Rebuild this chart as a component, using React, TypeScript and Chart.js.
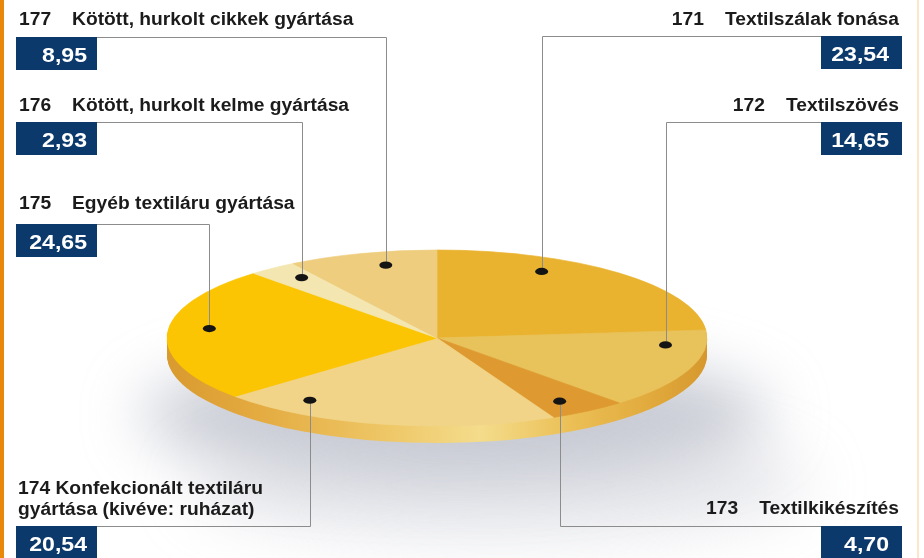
import { useEffect, useRef } from 'react';
import { Chart, registerables } from 'chart.js';

Chart.register(...registerables);

// ---- data ----
const codes = ['171', '172', '173', '174', '175', '176', '177'];
const names = [
  'Textilszálak fonása',
  'Textilszövés',
  'Textilkikészítés',
  'Konfekcionált textiláru\ngyártása (kivéve: ruházat)',
  'Egyéb textiláru gyártása',
  'Kötött, hurkolt kelme gyártása',
  'Kötött, hurkolt cikkek gyártása',
];
const values = [23.54, 14.65, 4.7, 20.54, 24.65, 2.93, 8.95];
const sliceColors = ['#e9b330', '#e8c25a', '#de9a30', '#f1d488', '#fcc503', '#f3e6b0', '#efcd7e'];

// ---- label layout (style) ----
type Lay = { side: 'L' | 'R'; textY: number; boxY: number; boxH: number; frac: number; inline?: boolean };
const layout: Lay[] = [
  { side: 'R', textY: 25, boxY: 36, boxH: 33, frac: 0.32 },
  { side: 'R', textY: 111, boxY: 122, boxH: 33, frac: 0.2 },
  { side: 'R', textY: 514, boxY: 526, boxH: 32, frac: 0.6 },
  { side: 'L', textY: 494, boxY: 526, boxH: 32, frac: 0.8, inline: true },
  { side: 'L', textY: 209, boxY: 224, boxH: 33, frac: 0.55 },
  { side: 'L', textY: 111, boxY: 122, boxH: 33, frac: 0.63 },
  { side: 'L', textY: 25, boxY: 37, boxH: 33, frac: 0.6 },
];

const TARGET_CY = 338;
const TILT = 88 / 270;
const THICK = 17;
const NAVY = '#0c396b';
const TEXT = '#1b1b1b';
const FONT = '"Liberation Sans", Arial, sans-serif';
const SX = 1.1;
const LINE_H = 21;

function sectorPath(ctx: CanvasRenderingContext2D, a: any) {
  ctx.beginPath();
  ctx.moveTo(a.x, a.y);
  ctx.arc(a.x, a.y, a.outerRadius, a.startAngle, a.endAngle);
  ctx.closePath();
}

function text(ctx: CanvasRenderingContext2D, t: string, x: number, y: number, align: CanvasTextAlign) {
  ctx.save();
  ctx.translate(x, y);
  ctx.scale(SX, 1);
  ctx.textAlign = align;
  ctx.fillText(t, 0, 0);
  ctx.restore();
}

const pie3d = {
  id: 'pie3d',
  beforeDraw(chart: any) {
    const ctx: CanvasRenderingContext2D = chart.ctx;
    const W = chart.width, H = chart.height;
    ctx.save();
    ctx.fillStyle = '#ffffff';
    ctx.fillRect(0, 0, W, H);
    // soft shadow below the disc
    ctx.filter = 'blur(30px)';
    ctx.fillStyle = 'rgba(165,170,185,0.6)';
    ctx.beginPath();
    ctx.ellipse(455, 415, 315, 62, 0, 0, Math.PI * 2);
    ctx.fill();
    ctx.fillStyle = 'rgba(185,188,200,0.35)';
    ctx.beginPath();
    ctx.ellipse(500, 485, 310, 55, 0, 0, Math.PI * 2);
    ctx.fill();
    ctx.filter = 'none';
    // frame accents
    ctx.fillStyle = '#e8890c';
    ctx.fillRect(0, 0, 4, H);
    ctx.fillStyle = '#fde6cc';
    ctx.fillRect(917, 0, 2, H);
    ctx.restore();
  },
  beforeDatasetsDraw(chart: any) {
    const ctx: CanvasRenderingContext2D = chart.ctx;
    const arcs = chart.getDatasetMeta(0).data;
    if (!arcs.length) return;
    const a0 = arcs[0];
    const cx = a0.x, cyC = a0.y, r = a0.outerRadius;
    const g = ctx.createLinearGradient(cx - r, 0, cx + r, 0);
    g.addColorStop(0, '#d99a2e');
    g.addColorStop(0.15, '#e3a93e');
    g.addColorStop(0.4, '#eec665');
    g.addColorStop(0.58, '#f4dc8c');
    g.addColorStop(0.75, '#ebbf55');
    g.addColorStop(0.9, '#e1a93c');
    g.addColorStop(1, '#d6982e');
    for (let d = THICK; d >= 1; d--) {
      ctx.save();
      ctx.translate(0, TARGET_CY + d);
      ctx.scale(1, TILT);
      ctx.translate(0, -cyC);
      ctx.fillStyle = g;
      for (const a of arcs) {
        sectorPath(ctx, a);
        ctx.fill();
      }
      ctx.restore();
    }
    ctx.save();
    ctx.translate(0, TARGET_CY);
    ctx.scale(1, TILT);
    ctx.translate(0, -cyC);
  },
  afterDatasetsDraw(chart: any) {
    chart.ctx.restore();
  },
  afterDraw(chart: any) {
    const ctx: CanvasRenderingContext2D = chart.ctx;
    const arcs = chart.getDatasetMeta(0).data;
    ctx.save();
    ctx.textBaseline = 'alphabetic';
    arcs.forEach((a: any, i: number) => {
      const L = layout[i];
      const ang = a.startAngle + L.frac * (a.endAngle - a.startAngle);
      const rr = a.outerRadius * 0.85;
      const dx = a.x + rr * Math.cos(ang);
      const dy = TARGET_CY + rr * Math.sin(ang) * TILT;
      const boxX = L.side === 'L' ? 16 : 821;
      const boxW = 81;
      // leader line
      ctx.strokeStyle = '#8c8c8c';
      ctx.lineWidth = 1;
      ctx.beginPath();
      const lx = Math.round(dx) + 0.5;
      const ly = L.boxY + 0.5;
      ctx.moveTo(L.side === 'L' ? boxX : boxX + boxW, ly);
      ctx.lineTo(lx, ly);
      ctx.lineTo(lx, dy);
      ctx.stroke();
      // dot
      ctx.fillStyle = '#141414';
      ctx.beginPath();
      ctx.ellipse(dx, dy, 6.5, 3.6, 0, 0, Math.PI * 2);
      ctx.fill();
      // value box
      ctx.fillStyle = NAVY;
      ctx.fillRect(boxX, L.boxY, boxW, L.boxH);
      ctx.fillStyle = '#ffffff';
      ctx.font = `bold 21px ${FONT}`;
      text(ctx, values[i].toFixed(2).replace('.', ','), boxX + boxW - (L.side === 'L' ? 10 : 13), L.boxY + 25, 'right');
      // label text
      ctx.fillStyle = TEXT;
      ctx.font = `bold 17.5px ${FONT}`;
      const lines = names[i].split('\n');
      if (L.inline) {
        text(ctx, `${codes[i]} ${lines[0]}`, 18, L.textY, 'left');
        for (let k = 1; k < lines.length; k++) text(ctx, lines[k], 18, L.textY + LINE_H * k, 'left');
      } else if (L.side === 'L') {
        text(ctx, codes[i], 19, L.textY, 'left');
        text(ctx, lines[0], 72, L.textY, 'left');
      } else {
        text(ctx, lines[0], 899, L.textY, 'right');
        const w = ctx.measureText(lines[0]).width * SX;
        text(ctx, codes[i], 899 - w - 21, L.textY, 'right');
      }
    });
    ctx.restore();
  },
};

export default function App() {
  const ref = useRef<HTMLCanvasElement>(null);
  useEffect(() => {
    document.body.style.margin = '0';
    const chart = new Chart(ref.current!, {
      type: 'pie',
      data: {
        labels: codes.map((c, i) => `${c} ${names[i].replace('\n', ' ')}`),
        datasets: [
          {
            data: values,
            backgroundColor: sliceColors,
            borderColor: sliceColors,
            borderWidth: 1,
            clip: false,
          } as any,
        ],
      },
      options: {
        responsive: false,
        animation: false,
        devicePixelRatio: 1,
        radius: 270,
        layout: { padding: { left: 0, right: 50, top: 0, bottom: 0 } },
        plugins: { legend: { display: false }, tooltip: { enabled: false } },
        events: [],
      } as any,
      plugins: [pie3d],
    });
    return () => chart.destroy();
  }, []);
  return (
    <div style={{ width: 924, height: 558 }}>
      <canvas ref={ref} width={924} height={558} style={{ display: 'block' }} />
    </div>
  );
}
